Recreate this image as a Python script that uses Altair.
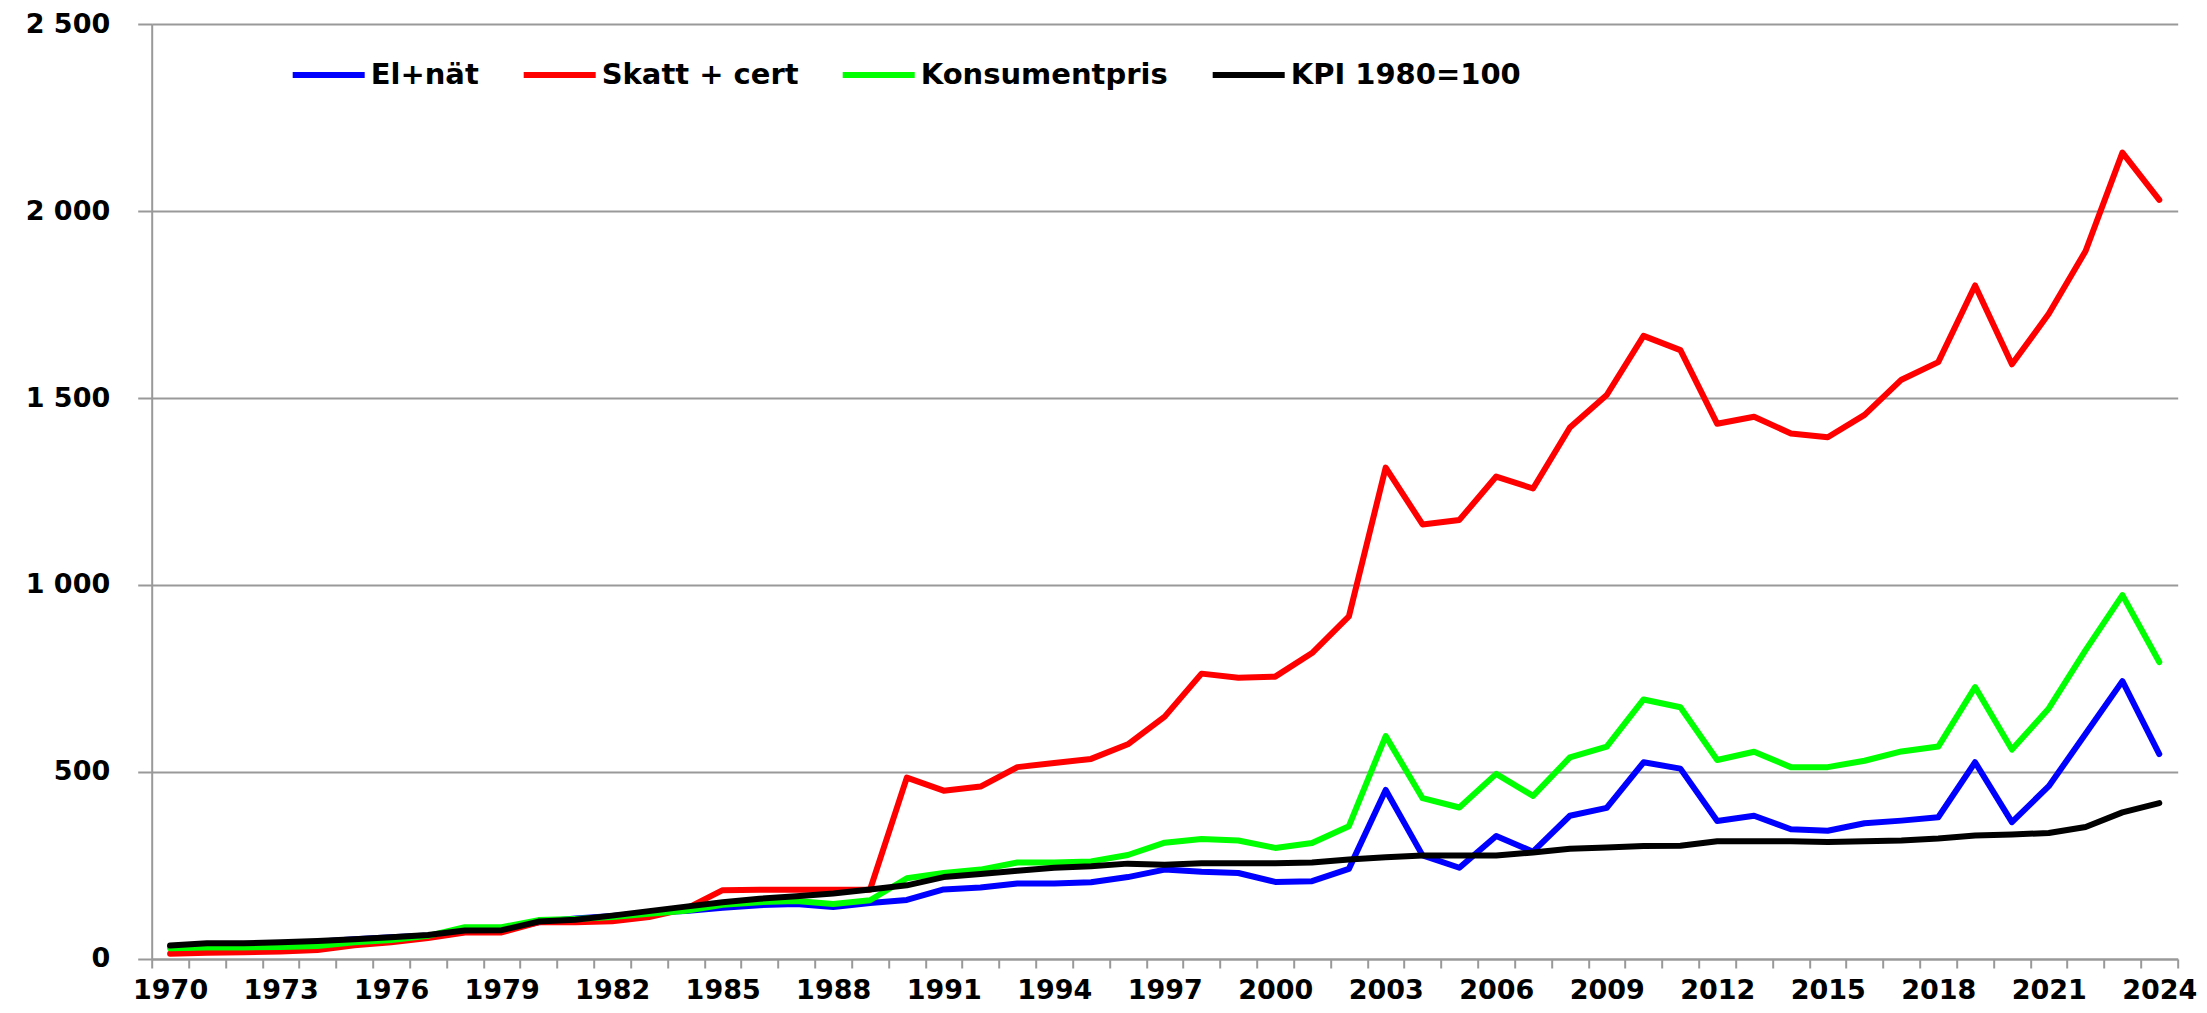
import altair as alt
import pandas as pd

years = list(range(1970, 2025))

el_nat = [33, 36, 38, 42, 46, 53, 58, 63, 72, 76,
          98, 108, 115, 124, 128, 137, 144, 147, 139, 150,
          158, 186, 191, 202, 202, 205, 219, 239, 233, 230,
          206, 208, 241, 452, 277, 244, 329, 287, 383, 404,
          526, 509, 369, 383, 347, 343, 363, 370, 379, 526,
          366, 462, 602, 743, 548]

skatt_cert = [14, 17, 18, 20, 24, 37, 45, 56, 71, 71,
              98, 98, 101, 112, 134, 184, 185, 185, 185, 185,
              485, 450, 461, 513, 524, 535, 574, 648, 763, 752,
              755, 818, 916, 1314, 1162, 1174, 1290, 1258, 1421, 1508,
              1666, 1628, 1431, 1450, 1405, 1395, 1455, 1549, 1596, 1801,
              1590, 1725, 1893, 2156, 2030]

konsumentpris = [29, 31, 31, 32, 35, 45, 51, 62, 85, 85,
                 104, 107, 112, 121, 129, 145, 152, 155, 147, 157,
                 216, 230, 239, 258, 258, 261, 278, 311, 321, 317,
                 297, 310, 355, 596, 430, 405, 495, 436, 539, 568,
                 694, 673, 532, 554, 513, 513, 530, 555, 568, 727,
                 560, 670, 826, 973, 794]

kpi = [36, 42, 42, 45, 48, 53, 58, 64, 76, 77,
       100, 105, 116, 128, 140, 152, 161, 168, 175, 186,
       197, 219, 227, 236, 244, 248, 255, 252, 256, 256,
       256, 258, 266, 272, 277, 277, 277, 285, 295, 298,
       302, 303, 315, 315, 315, 313, 315, 317, 322, 330,
       333, 337, 353, 392, 417]

series_names = ["El+nät", "Skatt + cert", "Konsumentpris", "KPI 1980=100"]
series_colors = ["#0000FF", "#FF0000", "#00FF00", "#000000"]
y_ticks = [0, 500, 1000, 1500, 2000, 2500]
x_label_years = list(range(1970, 2025, 3))

rows = []
for name, vals in zip(series_names, [el_nat, skatt_cert, konsumentpris, kpi]):
    for yr, v in zip(years, vals):
        rows.append({"year": yr, "value": v, "serie": name})
df = pd.DataFrame(rows)

PLOT_W = 2026
PLOT_H = 935
n_years = len(years)
band = PLOT_W / n_years

tick_positions = [years[0] - 0.5 + i for i in range(n_years + 1)]
label_list = ",".join(str(y) for y in x_label_years)
x_label_expr = (
    f"indexof([{label_list}], datum.value + 0.5) >= 0 ? toString(datum.value + 0.5) : ''"
)

FONT = "DejaVu Sans"
GRAY = "#999999"

x_enc = alt.X(
    "year:Q",
    scale=alt.Scale(domain=[years[0] - 0.5, years[-1] + 0.5], nice=False, zero=False),
    axis=alt.Axis(
        title=None,
        values=tick_positions,
        labelExpr=x_label_expr,
        labelOffset=band / 2,
        labelOverlap=False,
        labelFlush=False,
        labelBound=False,
        labelFont=FONT,
        labelFontWeight="bold",
        labelFontSize=27,
        labelColor="black",
        labelPadding=10,
        tickSize=9,
        tickWidth=2,
        tickColor=GRAY,
        domainColor=GRAY,
        domainWidth=2,
        grid=False,
    ),
)

y_enc = alt.Y(
    "value:Q",
    scale=alt.Scale(domain=[0, 2500], nice=False),
    axis=alt.Axis(
        title=None,
        values=y_ticks,
        labelExpr="replace(format(datum.value, ','), ',', ' ')",
        labelFont=FONT,
        labelFontWeight="bold",
        labelFontSize=27,
        labelColor="black",
        labelPadding=28,
        tickSize=14,
        tickWidth=2,
        tickColor=GRAY,
        domainColor=GRAY,
        domainWidth=2,
        grid=True,
        gridColor=GRAY,
        gridWidth=2,
    ),
)

color_enc = alt.Color(
    "serie:N",
    scale=alt.Scale(domain=series_names, range=series_colors),
    sort=series_names,
    legend=alt.Legend(
        title=None,
        orient="none",
        legendX=138,
        legendY=12,
        direction="horizontal",
        symbolType="stroke",
        symbolSize=5184,
        symbolStrokeWidth=6,
        labelFont=FONT,
        labelFontWeight="bold",
        labelFontSize=29,
        labelColor="black",
        labelOffset=3,
        columnPadding=32,
        labelLimit=400,
    ),
)

layers = []
for name in series_names:
    layers.append(
        alt.Chart(df)
        .transform_filter(alt.datum.serie == name)
        .mark_line(strokeWidth=6, strokeCap="round", strokeJoin="round")
        .encode(x=x_enc, y=y_enc, color=color_enc)
    )

chart = (
    alt.layer(*layers)
    .properties(
        width=PLOT_W,
        height=PLOT_H,
        autosize=alt.AutoSizeParams(type="none"),
        padding={"left": 143.7, "top": 16, "right": 20, "bottom": 46},
        background="white",
    )
    .configure_view(strokeWidth=0)
)

chart.save("out.html", embed_options={"renderer": "svg", "actions": False})
